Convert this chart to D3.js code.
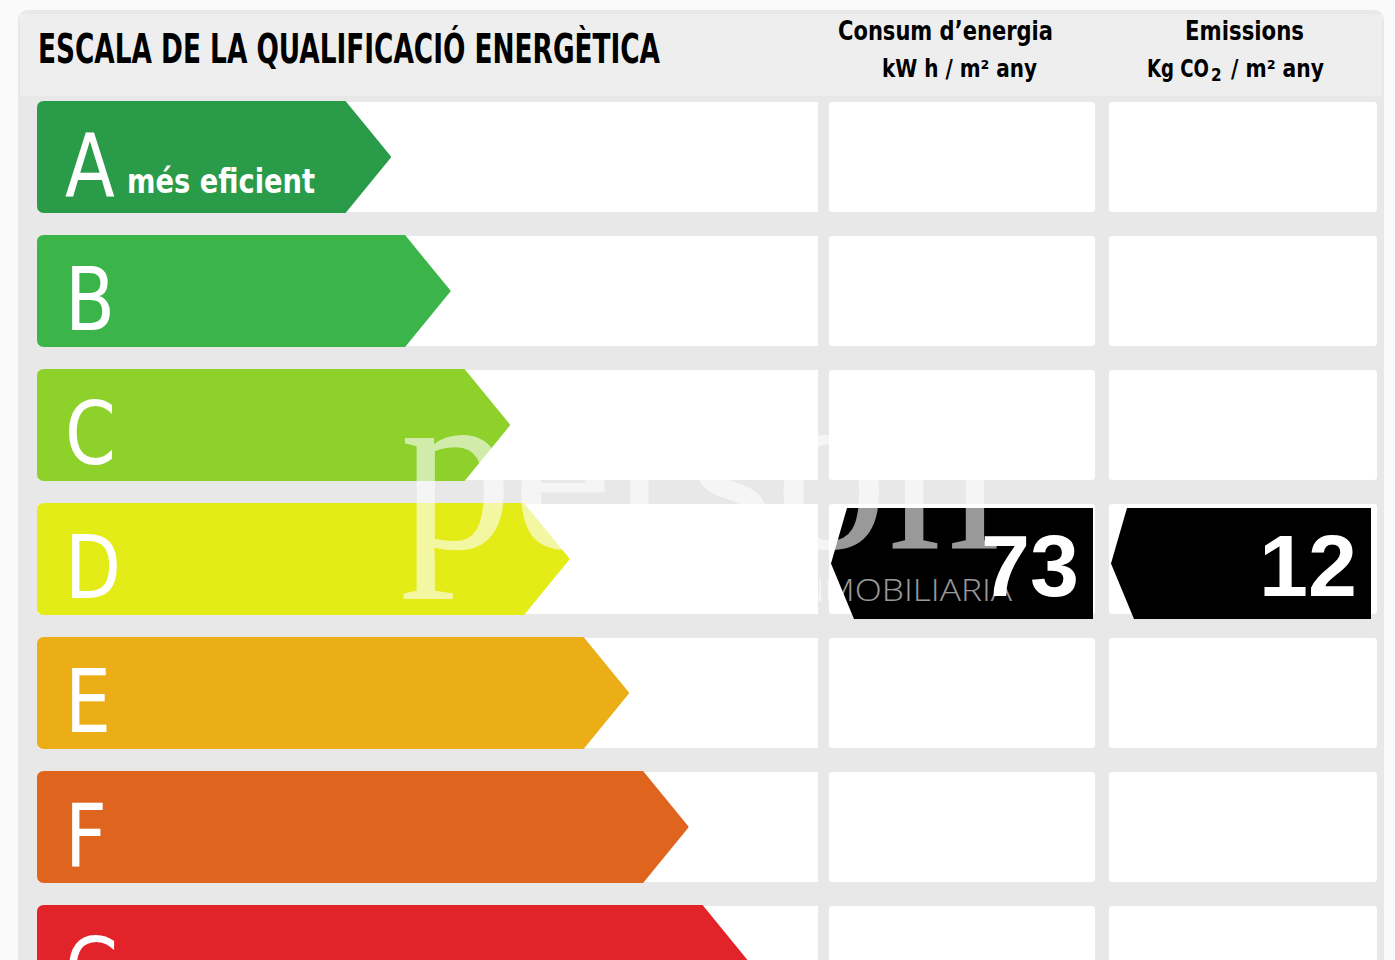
<!DOCTYPE html>
<html><head><meta charset="utf-8">
<script src="https://cdn.jsdelivr.net/npm/d3@7"></script>
<style>html,body{margin:0;padding:0;background:#fafafa;}svg{display:block;}</style>
</head><body>
<svg id="c" width="1395" height="960"></svg>
<script>
const categories = ["A","B","C","D","E","F","G"];
const categoryColors = ["#2a9b48","#3bb54a","#8ed12b","#e4ec18","#ecae17","#df641e","#e3232a"];
const categorySubLabels = ["més eficient","","","","","",""];
const title = "ESCALA DE LA QUALIFICACIÓ ENERGÈTICA";
const energyHeader = ["Consum d\u2019energia","kW h / m\u00b2 any"];
const emissionsHeader = ["Emissions","Kg CO","2","/ m\u00b2 any"];
const energyRating = "D";
const energyValue = 73;
const emissionsRating = "D";
const emissionsValue = 12;

const svg = d3.select("#c");
const font = "'Liberation Sans Narrow','DejaVu Sans Condensed','Liberation Sans',sans-serif";

// background panels
svg.append("rect").attr("x",18).attr("y",10).attr("width",1366).attr("height",960).attr("rx",10).attr("fill","#e8e8e8");
svg.append("rect").attr("x",20).attr("y",14).attr("width",1362).attr("height",82).attr("fill","#eeeeee");

const y = d3.scaleBand().domain(categories).range([102, 102 + 134*7 - 24]).paddingInner(24/134).paddingOuter(0);
const tipX = d3.scaleLinear().domain([0,6]).range([390, 747]);
const leftX = 38, tipW = 45;

// row white panels
const rows = svg.append("g");
categories.forEach(c => {
  const y0 = y(c), h = y.bandwidth();
  rows.append("rect").attr("x",38).attr("y",y0).attr("width",780).attr("height",h).attr("fill","#fff");
  rows.append("rect").attr("x",829).attr("y",y0).attr("width",266).attr("height",h).attr("rx",3).attr("fill","#fff");
  rows.append("rect").attr("x",1109).attr("y",y0).attr("width",268).attr("height",h).attr("rx",3).attr("fill","#fff");
});

// arrows
const arrows = svg.append("g");
categories.forEach((c,i) => {
  const y0 = y(c), h = y.bandwidth(), tx = tipX(i), r = 6;
  const p = d3.path();
  p.moveTo(leftX + r, y0);
  p.lineTo(tx - tipW, y0);
  p.lineTo(tx, y0 + h/2);
  p.lineTo(tx - tipW, y0 + h);
  p.lineTo(leftX + r, y0 + h);
  p.quadraticCurveTo(leftX, y0 + h, leftX, y0 + h - r);
  p.lineTo(leftX, y0 + r);
  p.quadraticCurveTo(leftX, y0, leftX + r, y0);
  p.closePath();
  arrows.append("path").attr("d", p.toString()).attr("fill", categoryColors[i]).attr("stroke",categoryColors[i]).attr("stroke-width",2).attr("stroke-linejoin","round");
  arrows.append("text").attr("x", 65).attr("y", y0 + 94).attr("font-family", font).attr("font-size", 88)
    .attr("transform", `translate(65,0) scale(0.92,1) translate(-65,0)`)
    .attr("fill","#fff").text(c);
  if (categorySubLabels[i]) {
    arrows.append("text").attr("x", 127).attr("y", y0 + 91).attr("font-family", font).attr("font-weight","bold")
      .attr("font-size", 34).attr("textLength",188).attr("lengthAdjust","spacingAndGlyphs").attr("fill","#fff").text(categorySubLabels[i]);
  }
});

// headers
svg.append("text").attr("x",38).attr("y",63).attr("font-family",font).attr("font-weight","bold").attr("font-size",40)
  .attr("textLength",622).attr("lengthAdjust","spacingAndGlyphs").attr("fill","#000").text(title);
svg.append("text").attr("x",838).attr("y",40).attr("font-family",font).attr("font-weight","bold")
  .attr("font-size",27).attr("textLength",215).attr("lengthAdjust","spacingAndGlyphs").attr("fill","#000").text(energyHeader[0]);
svg.append("text").attr("x",882).attr("y",77).attr("font-family",font).attr("font-weight","bold")
  .attr("font-size",24).attr("textLength",155).attr("lengthAdjust","spacingAndGlyphs").attr("fill","#000").text(energyHeader[1]);
svg.append("text").attr("x",1185).attr("y",40).attr("font-family",font).attr("font-weight","bold")
  .attr("font-size",27).attr("textLength",119).attr("lengthAdjust","spacingAndGlyphs").attr("fill","#000").text(emissionsHeader[0]);
const em2 = svg.append("text").attr("y",77).attr("font-family",font).attr("font-weight","bold").attr("font-size",24).attr("fill","#000");
em2.append("tspan").attr("x",1147).attr("textLength",62).attr("lengthAdjust","spacingAndGlyphs").text(emissionsHeader[1]);
em2.append("tspan").attr("x",1211).attr("y",81).attr("font-size",17).text(emissionsHeader[2]);
em2.append("tspan").attr("x",1231).attr("y",77).attr("textLength",93).attr("lengthAdjust","spacingAndGlyphs").text(emissionsHeader[3]);

// markers
function marker(rating, value, x0, x1) {
  const y0 = y(rating) + 4, h = y.bandwidth() + 1;
  const p = d3.path();
  p.moveTo(x0 + 16, y0);
  p.lineTo(x1, y0);
  p.lineTo(x1, y0 + h);
  p.lineTo(x0 + 23, y0 + h);
  p.lineTo(x0, y0 + h*0.5);
  p.closePath();
  svg.append("path").attr("d", p.toString()).attr("fill","#000");
  svg.append("text").attr("x", x1 - 14).attr("y", y0 + 88).attr("text-anchor","end").attr("font-family","'Liberation Sans',Arial,sans-serif")
    .attr("font-weight","bold").attr("font-size",88).attr("fill","#fff").text(value);
}
marker(energyRating, energyValue, 831, 1093);
marker(emissionsRating, emissionsValue, 1111, 1371);

// watermark
const wm = svg.append("g").attr("fill","#fff").attr("opacity",0.6);
wm.append("text").attr("x",400).attr("y",548).attr("font-family","'Liberation Serif','DejaVu Serif',serif")
  .attr("font-size",240).attr("textLength",600).attr("lengthAdjust","spacingAndGlyphs").text("person");
wm.append("text").attr("x",790).attr("y",601).attr("font-family","'Open Sans','Lato',sans-serif")
  .attr("font-weight",300).attr("font-size",32).attr("textLength",222).attr("lengthAdjust","spacingAndGlyphs").text("INMOBILIARIA");
</script>
</body></html>
